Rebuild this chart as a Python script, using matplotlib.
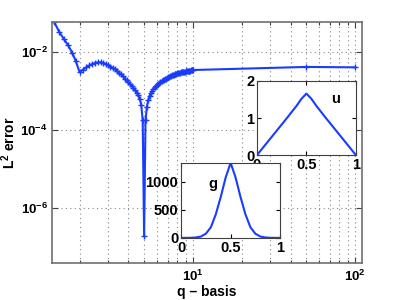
import numpy as np
import matplotlib
matplotlib.use('Agg')
import matplotlib.pyplot as plt
from matplotlib.ticker import LogLocator, NullFormatter, FixedLocator

plt.rcParams['font.family'] = ['Liberation Sans', 'DejaVu Sans']
plt.rcParams['font.weight'] = 'bold'
plt.rcParams['mathtext.fontset'] = 'custom'
plt.rcParams['mathtext.bf'] = 'Liberation Sans:bold'
plt.rcParams['mathtext.rm'] = 'Liberation Sans:bold'
plt.rcParams['mathtext.default'] = 'bf'

# error vs q
q_vals = [1.4, 1.5, 1.6, 1.7, 1.8, 1.9,
          2.0, 2.1, 2.2, 2.3, 2.4, 2.5, 2.6, 2.7, 2.8, 2.9,
          3.0, 3.1, 3.2, 3.3, 3.4, 3.5, 3.6, 3.7, 3.8, 3.9,
          4.0, 4.1, 4.2, 4.3, 4.4, 4.5, 4.6, 4.7, 4.8, 4.9,
          5.0, 5.1, 5.2, 5.3, 5.4, 5.5, 5.6, 5.7, 5.8, 5.9,
          6.0, 6.1, 6.2, 6.3, 6.4, 6.5, 6.6, 6.7, 6.8, 6.9,
          7.0, 7.1, 7.2, 7.3, 7.4, 7.5, 7.6, 7.7, 7.8, 7.9,
          8.0, 8.1, 8.2, 8.3, 8.4, 8.5, 8.6, 8.7, 8.8, 8.9,
          9.0, 9.1, 9.2, 9.3, 9.4, 9.5, 9.6, 9.7, 9.8, 9.9,
          10.0, 50.0, 100.0]
err_vals = [0.058, 0.033, 0.022, 0.015, 0.0098, 0.0058,
            3.1e-3, 3.6e-3, 4.1e-3, 4.6e-3, 5.0e-3, 5.3e-3, 5.5e-3, 5.5e-3, 5.3e-3, 5.0e-3,
            4.7e-3, 4.3e-3, 4.0e-3, 3.7e-3, 3.3e-3, 3.0e-3, 2.7e-3, 2.4e-3, 2.1e-3, 1.9e-3,
            1.7e-3, 1.5e-3, 1.4e-3, 1.2e-3, 1.05e-3, 9.2e-4, 8.0e-4, 6.4e-4, 4.4e-4, 1.8e-4,
            1.9e-7, 1.8e-4, 4.0e-4, 5.9e-4, 7.6e-4, 9.0e-4, 1.02e-3, 1.14e-3, 1.25e-3, 1.35e-3,
            1.45e-3, 1.55e-3, 1.64e-3, 1.73e-3, 1.82e-3, 1.9e-3, 1.98e-3, 2.05e-3, 2.12e-3, 2.2e-3,
            2.27e-3, 2.34e-3, 2.41e-3, 2.48e-3, 2.55e-3, 2.62e-3, 2.68e-3, 2.73e-3, 2.78e-3, 2.83e-3,
            2.87e-3, 2.91e-3, 2.95e-3, 2.99e-3, 3.03e-3, 3.07e-3, 3.1e-3, 3.13e-3, 3.16e-3, 3.19e-3,
            3.22e-3, 3.25e-3, 3.28e-3, 3.31e-3, 3.34e-3, 3.37e-3, 3.4e-3, 3.43e-3, 3.45e-3, 3.48e-3,
            3.5e-3, 4.2e-3, 4.1e-3]

# inset u
u_x = [0.0, 0.1, 0.2, 0.3, 0.4, 0.45, 0.5, 0.55, 0.6, 0.7, 0.8, 0.9, 1.0]
u_y = [0.0, 0.33, 0.66, 0.99, 1.33, 1.52, 1.66, 1.52, 1.33, 0.99, 0.66, 0.33, 0.0]

# inset g
g_x = [0.0, 0.1, 0.15, 0.2, 0.25, 0.3, 0.35, 0.4, 0.45, 0.5,
       0.55, 0.6, 0.65, 0.7, 0.75, 0.8, 0.85, 0.9, 1.0]
g_y = [0, 2, 8, 25, 75, 190, 420, 730, 1080, 1340,
       1080, 730, 420, 190, 75, 25, 8, 2, 0]

blue = '#1a3cff'
edge = '#404040'
grid_kw = dict(ls=(0, (1, 3)), color='#888888', lw=0.8)

fig = plt.figure(figsize=(3.99, 3.0), dpi=100)
ax = fig.add_axes([0.130, 0.123, 0.777, 0.803])
ax.loglog(q_vals, err_vals, '-+', color=blue, lw=1.5, ms=5, mew=1)
ax.set_xlim(1.35, 110)
ax.set_ylim(3.9e-8, 0.059)
ax.yaxis.set_major_locator(FixedLocator([1e-6, 1e-4, 1e-2]))
ax.yaxis.set_minor_locator(FixedLocator([]))
ax.xaxis.set_major_locator(FixedLocator([10, 100]))
ax.xaxis.set_minor_locator(LogLocator(base=10, subs=np.arange(2, 10)))
ax.xaxis.set_minor_formatter(NullFormatter())
ax.grid(True, which='major', **grid_kw)
ax.grid(True, which='minor', axis='x', **grid_kw)
ax.tick_params(which='both', direction='in', top=True, right=True, labelsize=9.5,
               color=edge, width=0.8)
ax.tick_params(which='major', length=4, pad=3)
ax.tick_params(axis='x', which='major', pad=4)
ax.tick_params(which='minor', length=2)
for s in ax.spines.values():
    s.set_color('#707070')
    s.set_linewidth(1.2)
ax.set_xlabel('q – basis', fontsize=10, fontweight='bold')
ax.set_ylabel(r'L$^{2}$ error', fontsize=10, fontweight='bold')
ax.xaxis.set_label_coords(0.5, -0.09)
ax.yaxis.set_label_coords(-0.11, 0.5)

# inset u
axu = fig.add_axes([0.644, 0.483, 0.248, 0.247])
axu.plot(u_x, u_y, color=blue, lw=1.5)
axu.set_xlim(0, 1)
axu.set_ylim(0, 2)
axu.set_xticks([0, 0.5, 1])
axu.set_xticklabels(['0', '0.5', '1'])
axu.set_yticks([0, 1, 2])
axu.tick_params(direction='in', labelsize=10.5, length=3, pad=2, top=True, right=True)
axu.text(0.75, 1.4, 'u', fontsize=10.5, fontweight='bold')
for s in axu.spines.values():
    s.set_color(edge)

# inset g
axg = fig.add_axes([0.454, 0.207, 0.248, 0.25])
axg.plot(g_x, g_y, color=blue, lw=1.5)
axg.set_xlim(0, 1)
axg.set_ylim(0, 1340)
axg.set_xticks([0, 0.5, 1])
axg.set_xticklabels(['0', '0.5', '1'])
axg.set_yticks([0, 500, 1000])
axg.tick_params(direction='in', labelsize=10.5, length=3, pad=2, top=True, right=True)
axg.text(0.28, 900, 'g', fontsize=10.5, fontweight='bold')
for s in axg.spines.values():
    s.set_color(edge)

fig.savefig('out.png', dpi=100)
